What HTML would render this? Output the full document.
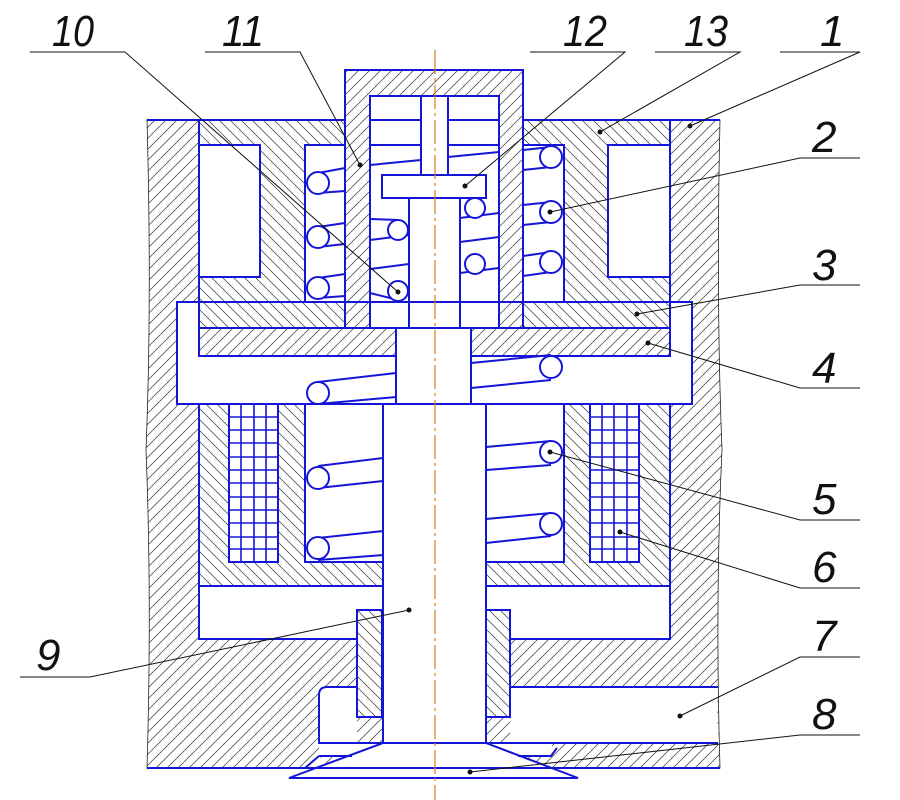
<!DOCTYPE html>
<html><head><meta charset="utf-8"><style>html,body{margin:0;padding:0;background:#fff}svg{display:block}</style></head><body>
<svg width="900" height="800" viewBox="0 0 900 800" xmlns="http://www.w3.org/2000/svg">
<defs>
<pattern id="f" width="11" height="11" patternUnits="userSpaceOnUse"><rect width="11" height="11" fill="#fff"/><path d="M-2,13 L13,-2 M-2,2 L2,-2 M9,13 L13,9" stroke="#333" stroke-width="0.7"/></pattern>
<pattern id="b" width="11" height="11" patternUnits="userSpaceOnUse"><rect width="11" height="11" fill="#fff"/><path d="M-2,-2 L13,13 M9,-2 L13,2 M-2,9 L2,13" stroke="#333" stroke-width="0.7"/></pattern>
</defs>
<path d="M147,120 L720,120 Q716,300 722,450 Q715,600 720,768 L147,768 Q152,600 146,450 Q152,300 147,120 Z" fill="url(#f)" stroke="#222" stroke-width="0.8"/>
<rect x="199" y="120" width="471" height="466" fill="url(#b)"/>
<rect x="345" y="70" width="178" height="258" fill="url(#f)"/>
<rect x="370" y="96" width="129" height="232" fill="#fff"/>
<rect x="370" y="302" width="39" height="26" fill="url(#b)"/>
<rect x="460" y="302" width="39" height="26" fill="url(#b)"/>
<rect x="199" y="145" width="61" height="132" fill="#fff"/>
<rect x="608" y="145" width="62" height="132" fill="#fff"/>
<rect x="305" y="145" width="40" height="157" fill="#fff"/>
<rect x="523" y="145" width="41" height="157" fill="#fff"/>
<rect x="177" y="302" width="515" height="102" fill="#fff"/>
<rect x="199" y="302" width="146" height="26" fill="url(#b)"/>
<rect x="523" y="302" width="147" height="26" fill="url(#b)"/>
<rect x="345" y="302" width="25" height="26" fill="url(#f)"/>
<rect x="499" y="302" width="24" height="26" fill="url(#f)"/>
<rect x="199" y="328" width="197" height="28" fill="url(#f)"/>
<rect x="471" y="328" width="199" height="28" fill="url(#f)"/>
<rect x="305" y="404" width="78" height="158" fill="#fff"/>
<rect x="486" y="404" width="78" height="158" fill="#fff"/>
<rect x="229" y="404" width="49" height="158" fill="#fff"/>
<rect x="590" y="404" width="49" height="158" fill="#fff"/>
<rect x="383" y="404" width="103" height="339" fill="#fff"/>
<rect x="199" y="586" width="471" height="53" fill="#fff"/>
<rect x="357" y="610" width="25" height="107" fill="url(#b)"/>
<rect x="486" y="610" width="24" height="107" fill="url(#b)"/>
<path d="M510,687 L718,687 Q716,715 719,743 L510,743 Z" fill="#fff"/>
<path d="M357,687 L327,687 Q319,687 319,695 L319,743 L357,743 Z" fill="#fff"/>
<rect x="319" y="743" width="233" height="13" fill="#fff"/>
<path d="M319,756 L305,768 L330,768 Z" fill="#fff"/>
<path d="M383,743 L486,743 L578,778 L289,778 Z" fill="#fff"/>

<g fill="none" stroke="#1515d8" stroke-width="2">
<path d="M147,120 L345,120 M523,120 L720,120"/>
<path d="M199,120 L199,302 M670,120 L670,302 M199,404 L199,639 L357,639 M670,404 L670,639 L510,639 M199,586 L383,586 M486,586 L670,586"/>
<rect x="345" y="70" width="178" height="258"/>
<rect x="370" y="96" width="129" height="232"/>
<path d="M421,96 L421,175 M448,96 L448,175 M370,120 L421,120 M448,120 L499,120 M370,145 L421,145 M448,145 L499,145"/>
<rect x="382" y="175" width="104" height="23"/>
<path d="M409,198 L409,328 M460,198 L460,328"/>
<rect x="199" y="145" width="61" height="132"/>
<rect x="608" y="145" width="62" height="132"/>
<path d="M345,145 L305,145 L305,302 M523,145 L564,145 L564,302"/>
<rect x="177" y="302" width="515" height="102"/>
<path d="M199,302 L199,356 L396,356 M670,302 L670,356 L471,356 M199,328 L670,328"/>
<rect x="396" y="328" width="75" height="76"/>
<path d="M305,404 L305,562 L383,562 M564,404 L564,562 L486,562"/>
<rect x="229" y="404" width="49" height="158"/>
<rect x="590" y="404" width="49" height="158"/>
<path d="M383,404 L383,743 M486,404 L486,743"/>
<rect x="357" y="610" width="25" height="107"/>
<rect x="486" y="610" width="24" height="107"/>
<path d="M510,687 L718,687 M357,687 L327,687 Q319,687 319,695 L319,743 L718,743 M319,756 L352,756 M518,756 L551,756 L557,748 M319,756 L305,768 M147,768 L720,768"/>
<path d="M383,743 L289,778 L578,778 L486,743"/>
</g>
<g stroke="#1515d8" stroke-width="1.6">
<path d="M241,404 V562 M254,404 V562 M266,404 V562 M602,404 V562 M614,404 V562 M627,404 V562"/>
<path d="M229,417 H278 M229,430 H278 M229,443 H278 M229,457 H278 M229,470 H278 M229,483 H278 M229,497 H278 M229,510 H278 M229,523 H278 M229,537 H278 M229,549 H278"/>
<path d="M590,417 H639 M590,430 H639 M590,443 H639 M590,457 H639 M590,470 H639 M590,483 H639 M590,497 H639 M590,510 H639 M590,523 H639 M590,537 H639 M590,549 H639"/>
</g>
<g fill="#fff" stroke="#1515d8" stroke-width="2">
<path d="M318,173 L345,168 M318,193 L345,191 M318,227 L345,223 M318,247 L345,244 M318,278 L345,274 M318,298 L345,296" fill="none"/>
<circle cx="318" cy="183" r="11"/><circle cx="318" cy="237" r="11"/><circle cx="318" cy="288" r="11"/>
<path d="M523,150 L551,147 M523,170 L551,167 M523,205 L551,202 M523,225 L551,222 M523,256 L551,252 M523,276 L551,272" fill="none"/>
<circle cx="551" cy="157" r="11"/><circle cx="551" cy="212" r="11"/><circle cx="551" cy="262" r="11"/>
<path d="M370,165 L421,160 M448,157 L499,152 M370,219 L398,220 M370,240 L409,235 M370,269 L409,264 M370,293 L398,300 M460,218 L499,213 M460,242 L499,237 M460,273 L499,268" fill="none"/>
<circle cx="398" cy="230" r="10"/><circle cx="398" cy="291" r="10"/><circle cx="475" cy="208" r="10"/><circle cx="475" cy="264" r="10"/>
<path d="M318,382 L396,373 M318,404 L396,397 M471,363 L551,355 M471,388 L551,380 M318,466 L383,458 M318,488 L383,481 M318,538 L383,531 M318,560 L383,555 M486,447 L551,441 M486,470 L551,465 M486,519 L551,513 M486,543 L551,536" fill="none"/>
<circle cx="318" cy="393" r="11"/><circle cx="551" cy="367" r="11"/>
<circle cx="318" cy="478" r="11"/><circle cx="318" cy="548" r="11"/>
<circle cx="551" cy="452" r="11"/><circle cx="551" cy="524" r="11"/>
</g>
<line x1="435" y1="50" x2="435" y2="800" stroke="#e07a1a" stroke-width="1.2" stroke-dasharray="24,4,3,4"/>
<g stroke="#111" stroke-width="1" fill="none">
<path d="M30,52 H125 L398,292"/><path d="M205,52 H300 L360,165"/>
<path d="M530,52 H625 L465,186"/><path d="M655,52 H740 L600,132"/>
<path d="M780,52 H860 L690,126"/><path d="M860,158 H800 L550,212"/>
<path d="M860,285 H800 L637,314"/><path d="M860,388 H800 L648,343"/>
<path d="M860,520 H800 L550,452"/><path d="M860,588 H800 L620,532"/>
<path d="M860,657 H800 L680,716"/><path d="M860,735 H800 L470,772"/>
<path d="M20,677 H90 L409,610"/>
</g>
<g fill="#111"><circle cx="398" cy="292" r="2.5"/><circle cx="360" cy="165" r="2.5"/><circle cx="465" cy="186" r="2.5"/><circle cx="600" cy="132" r="2.5"/><circle cx="690" cy="126" r="2.5"/><circle cx="550" cy="212" r="2.5"/><circle cx="637" cy="314" r="2.5"/><circle cx="648" cy="343" r="2.5"/><circle cx="550" cy="452" r="2.5"/><circle cx="620" cy="532" r="2.5"/><circle cx="680" cy="716" r="2.5"/><circle cx="470" cy="772" r="2.5"/><circle cx="409" cy="610" r="2.5"/></g>
<g font-family="Liberation Sans, sans-serif" font-style="italic" font-size="44" fill="#111">
<text x="52" y="46" textLength="42" lengthAdjust="spacingAndGlyphs">10</text>
<text x="222" y="46" textLength="42" lengthAdjust="spacingAndGlyphs">11</text>
<text x="563" y="46" textLength="44" lengthAdjust="spacingAndGlyphs">12</text>
<text x="684" y="46" textLength="44" lengthAdjust="spacingAndGlyphs">13</text>
<text x="820" y="46">1</text>
<text x="812" y="152">2</text>
<text x="812" y="280">3</text>
<text x="812" y="383">4</text>
<text x="812" y="514">5</text>
<text x="812" y="582">6</text>
<text x="812" y="651">7</text>
<text x="812" y="729">8</text>
<text x="36" y="670">9</text>
</g>
</svg>
</body></html>
